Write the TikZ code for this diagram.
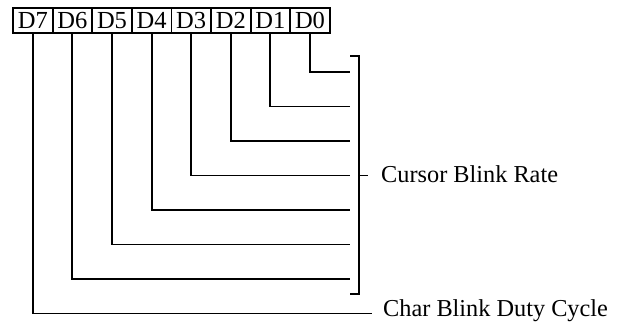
\documentclass[tikz,border=0pt]{standalone}
\usepackage{fontspec}
\setmainfont{Liberation Serif}
\begin{document}
\begin{tikzpicture}[x=1pt,y=-1pt,
  bitbox/.style={draw,line width=1.8pt,minimum width=39.6pt,minimum height=25pt,inner sep=0pt,outer sep=0pt,font=\fontsize{24.5}{26}\selectfont,anchor=north west},
  wire/.style={line width=1.9pt},
  lbl/.style={anchor=base west,inner sep=0pt,font=\fontsize{24.3}{26}\selectfont}]
\useasboundingbox (0,0) rectangle (625,322);
\foreach \i/\n in {7/0,6/1,5/2,4/3,3/4,2/5,1/6,0/7}{
  \node[bitbox] (b\i) at ({13+39.6*\n},8) {D\i};
}
\foreach \i in {0,...,6}{
  \coordinate (e\i) at (350,{72+34.5*\i});
}
\coordinate (e7) at (372,313.5);
\foreach \i in {0,...,7}{
  \draw[wire] (b\i.south) |- (e\i);
}
\coordinate (bt) at (350,56);
\coordinate (bb) at (350,294);
\coordinate (bm) at (359,175.5);
\node[lbl] (cbr) at (381,182.5) {Cursor Blink Rate};
\node[lbl] (cbd) at (383,316.5) {Char Blink Duty Cycle};
\draw[wire] (bt) -- ++(9,0) |- (bb);
\draw[wire] (bm) -- ++(9,0);
\end{tikzpicture}
\end{document}
